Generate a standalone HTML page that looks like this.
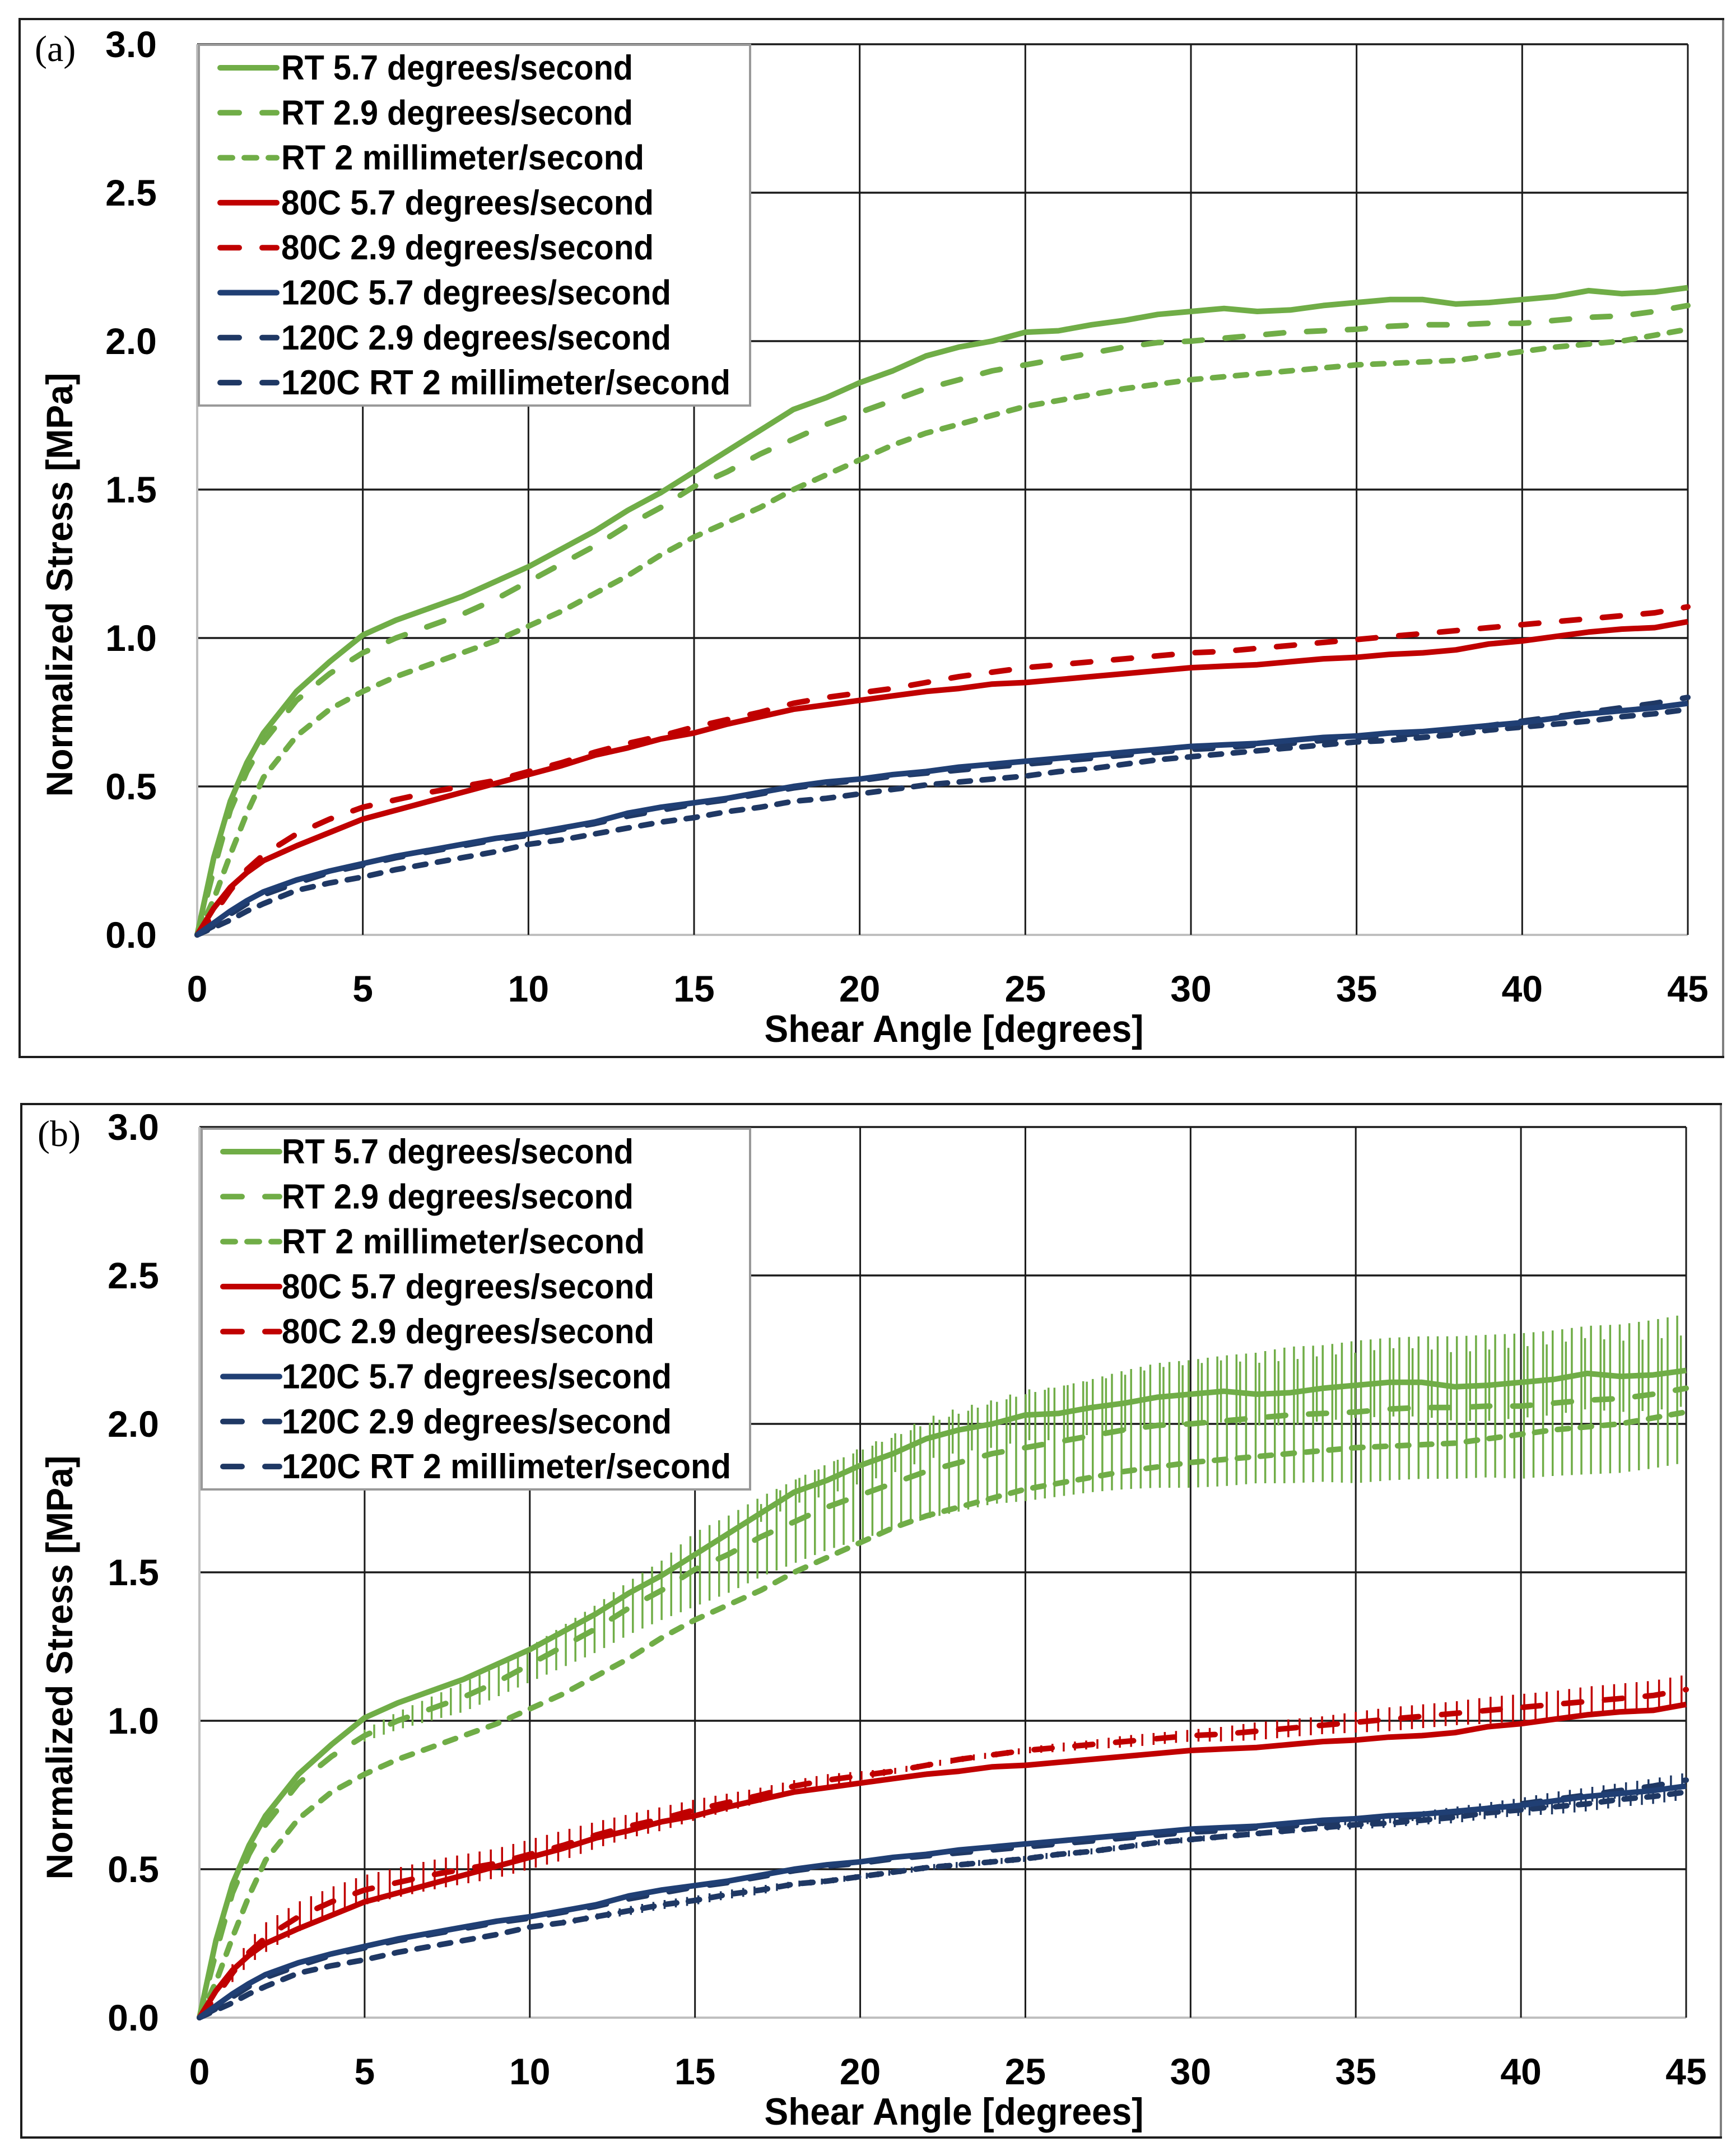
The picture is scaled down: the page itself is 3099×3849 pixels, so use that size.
<!DOCTYPE html>
<html><head><meta charset="utf-8"><title>Normalized stress vs shear angle</title>
<style>html,body{margin:0;padding:0;background:#fff}svg{display:block}text{font-family:"Liberation Sans",sans-serif;font-weight:bold;fill:#000}</style>
</head><body>
<svg id="chart" xmlns="http://www.w3.org/2000/svg" width="3099" height="3849" viewBox="0 0 3099 3849"></svg>
<script>
const angles=[0,.5,1,1.5,2,3,4,5,6,7,8,9,10,11,12,13,14,15,16,17,18,19,20,21,22,23,24,25,26,27,28,29,30,31,32,33,34,35,36,37,38,39,40,41,42,43,44,45];
const rt57=[0,.26,.45,.58,.68,.82,.92,1.01,1.06,1.10,1.14,1.19,1.24,1.30,1.36,1.43,1.49,1.56,1.63,1.70,1.77,1.81,1.86,1.90,1.95,1.98,2.00,2.03,2.035,2.055,2.07,2.09,2.10,2.11,2.10,2.105,2.12,2.13,2.14,2.14,2.125,2.13,2.14,2.15,2.17,2.16,2.165,2.18];
const rt29=[0,.22,.42,.55,.65,.79,.88,.95,1.00,1.04,1.08,1.13,1.19,1.25,1.31,1.38,1.44,1.51,1.56,1.62,1.67,1.72,1.76,1.80,1.84,1.87,1.90,1.92,1.94,1.96,1.98,1.995,2.00,2.01,2.02,2.03,2.035,2.04,2.05,2.055,2.055,2.06,2.06,2.07,2.08,2.085,2.10,2.12];
const rt2mm=[0,.12,.27,.41,.53,.67,.76,.82,.87,.91,.95,.99,1.04,1.09,1.15,1.21,1.28,1.34,1.39,1.44,1.50,1.55,1.60,1.65,1.69,1.72,1.75,1.78,1.80,1.82,1.84,1.855,1.87,1.88,1.89,1.90,1.91,1.92,1.925,1.93,1.935,1.95,1.965,1.98,1.99,2.00,2.02,2.04];
const c80s57=[0,.09,.16,.21,.25,.30,.345,.39,.42,.45,.48,.51,.54,.57,.605,.63,.66,.68,.71,.735,.76,.775,.79,.805,.82,.83,.845,.85,.86,.87,.88,.89,.90,.905,.91,.92,.93,.935,.945,.95,.96,.98,.99,1.005,1.02,1.03,1.035,1.055];
const c80s29=[0,.07,.15,.22,.27,.34,.39,.43,.455,.48,.50,.52,.55,.58,.615,.645,.67,.70,.725,.75,.78,.80,.815,.83,.85,.87,.885,.90,.91,.92,.93,.94,.95,.955,.965,.975,.985,.995,1.005,1.015,1.025,1.035,1.045,1.055,1.065,1.075,1.085,1.105];
const c120s57=[0,.04,.08,.115,.145,.185,.215,.24,.265,.285,.305,.325,.34,.36,.38,.41,.43,.445,.46,.48,.50,.515,.525,.54,.55,.565,.575,.585,.595,.605,.615,.625,.635,.64,.645,.655,.665,.67,.68,.685,.695,.705,.715,.73,.745,.755,.765,.78];
const c120s29=[0,.03,.07,.105,.135,.175,.21,.235,.26,.28,.30,.32,.335,.355,.375,.40,.42,.44,.455,.475,.495,.51,.52,.535,.545,.555,.565,.575,.585,.595,.605,.615,.625,.63,.64,.645,.655,.665,.67,.68,.69,.705,.72,.735,.75,.765,.78,.80];
const c120s2mm=[0,.025,.05,.08,.105,.15,.175,.195,.22,.24,.26,.28,.305,.32,.34,.36,.38,.395,.415,.43,.45,.46,.475,.49,.505,.515,.525,.535,.55,.56,.575,.59,.60,.61,.62,.63,.64,.65,.655,.665,.675,.69,.70,.71,.72,.735,.745,.76];
/* error half-widths, one value per whole degree 0..45 */
const errRt29=[.01,.01,.02,.02,.02,.02,.03,.04,.05,.05,.06,.07,.08,.09,.10,.125,.13,.135,.14,.145,.15,.155,.16,.165,.17,.18,.185,.19,.20,.21,.215,.22,.22,.23,.23,.24,.24,.24,.24,.24,.245,.245,.25,.25,.25,.25];
const errRt57=[0,0,0,0,0,0,0,0,0,0,0,0,0,0,0,0,0,.03,.04,.05,.06,.065,.07,.075,.08,.085,.09,.09,.095,.10,.10,.105,.105,.11,.11,.11,.115,.115,.115,.12,.12,.12,.12,.12,.12,.12];
const err80=[.01,.03,.05,.05,.05,.05,.05,.05,.05,.05,.05,.05,.045,.04,.04,.035,.03,.025,.02,.02,.015,.01,.01,.01,.01,.01,.015,.015,.02,.02,.02,.025,.03,.03,.03,.035,.04,.04,.04,.045,.045,.045,.05,.05,.05,.05];
const err120=[0,0,0,0,0,0,0,0,0,0,.005,.01,.01,.015,.015,.015,.015,.015,.01,.01,.01,.01,.01,.01,.01,.01,.01,.01,.01,.01,.01,.01,.01,.01,.01,.015,.015,.015,.02,.02,.02,.025,.025,.025,.025,.025];
const yTicks=["0.0","0.5","1.0","1.5","2.0","2.5","3.0"];
const xTicks=["0","5","10","15","20","25","30","35","40","45"];
const seriesLabels=["RT 5.7 degrees/second","RT 2.9 degrees/second","RT 2 millimeter/second","80C 5.7 degrees/second","80C 2.9 degrees/second","120C 5.7 degrees/second","120C 2.9 degrees/second","120C RT 2 millimeter/second"];
const seriesValues=[rt57,rt29,rt2mm,c80s57,c80s29,c120s57,c120s29,c120s2mm];

const GREEN="#70ad47",RED="#c00000",NAVY="#1f3864",BLUE="#203f74";
const seriesColors=[GREEN,GREEN,GREEN,RED,RED,BLUE,NAVY,NAVY];
const seriesDash=["","32 41","20 21","","32 41","","32 41","20 21"];
const legendTextWidths=[628,628,648,665,665,696,696,802];
const svg=document.getElementById("chart");
const NS="http://www.w3.org/2000/svg";
function el(tag,attrs,parent,txt){const e=document.createElementNS(NS,tag);for(const k in attrs)e.setAttribute(k,attrs[k]);if(txt!==undefined)e.textContent=txt;parent.appendChild(e);return e;}
function valueAt(vals,a){for(let i=1;i<angles.length;i++){if(a<=angles[i]){const t=(a-angles[i-1])/(angles[i]-angles[i-1]);return vals[i-1]+t*(vals[i]-vals[i-1]);}}return vals[vals.length-1];}
function errAt(errs,a){const i=Math.min(Math.floor(a),44),t=a-i;return errs[i]+t*(errs[i+1]-errs[i]);}

function drawPanel(p){
  const g=el("g",{},svg);
  
  
  const X=v=>p.x0+(p.x45-p.x0)*v/45, Y=v=>p.y0+(p.y3-p.y0)*v/3;
  const frame=el("rect",{x:p.fx,y:p.fy,width:p.fw,height:p.fh,fill:"#fff",stroke:"#1c1c1c","stroke-width":4},g);
  
  
  const rightEdge=el("line",{x1:p.fx+p.fw,x2:p.fx+p.fw,y1:p.fy+2,y2:p.fy+p.fh-2,stroke:"#808080","stroke-width":4},g);
  
  
  const tag=el("text",{x:p.fx+p.tagDx,y:p.fy+75,"font-size":66,style:'font-family:"Liberation Serif",serif;font-weight:normal'},g,"("+p.id+")");
  
  
  yTicks.forEach(t=>{
    const v=parseFloat(t);
    const gl=el("line",{x1:X(0),x2:X(45),y1:Y(v),y2:Y(v),stroke:v===0?"#bfbfbf":"#1a1a1a","stroke-width":v===0?4:3.5},g);
    
    
    const lb=el("text",{x:X(0)-118,y:Y(v)+23,"font-size":66,"text-anchor":"middle"},g,t);
    
    
  });
  xTicks.forEach(t=>{
    const v=parseFloat(t);
    const gl=el("line",{x1:X(v),x2:X(v),y1:Y(0),y2:Y(3),stroke:v===0?"#bfbfbf":"#1a1a1a","stroke-width":v===0?4:3},g);
    
    
    const lb=el("text",{x:X(v),y:Y(0)+119,"font-size":66,"text-anchor":"middle"},g,t);
    
    
  });
  if(p.errors){
    const bars=[[rt29,errRt29,GREEN,.29,5],[rt57,errRt57,GREEN,.58,17],[c80s29,err80,RED,.34,1],[c120s2mm,err120,NAVY,.34,10],[c120s29,err120,NAVY,.34,34]];
    bars.forEach(b=>{
      for(let a=b[4];a<=45.001;a+=b[3]){
        const c=valueAt(b[0],a),h=errAt(b[1],Math.min(a,45));
        const l=el("line",{x1:X(Math.min(a,45)),x2:X(Math.min(a,45)),y1:Y(c-h),y2:Y(c+h),stroke:b[2],"stroke-width":3.5},g);
        
        
      }
    });
  }
  [2,1,0,4,3,7,6,5].forEach(i=>{
    const d=seriesValues[i].map((v,k)=>(k?"L":"M")+X(angles[k]).toFixed(1)+" "+Y(v).toFixed(1)).join("");
    const attrs={d:d,fill:"none",stroke:seriesColors[i],"stroke-width":10,"stroke-linejoin":"round"};
    if(seriesDash[i]){attrs["stroke-dasharray"]=seriesDash[i];attrs["stroke-linecap"]="round";}
    const s=el("path",attrs,g);
    
    
  });
  const leg=el("g",{},g);
  
  
  el("rect",{x:p.lx,y:p.ly,width:p.lw,height:p.lh,fill:"#fff",stroke:"#999","stroke-width":4},leg);
  seriesLabels.forEach((t,i)=>{
    const ry=p.ly+41+i*80.3;
    const attrs={x1:p.lx+38,x2:p.lx+139,y1:ry,y2:ry,stroke:seriesColors[i],"stroke-width":10,"stroke-linecap":"round"};
    if(seriesDash[i])attrs["stroke-dasharray"]=i%3===1||i===4||i===6?"34 41":"22 21";
    const sw=el("line",attrs,leg);
    
    
    const lt=el("text",{x:p.lx+p.textDx,y:ry+21,"font-size":62,textLength:legendTextWidths[i],lengthAdjust:"spacingAndGlyphs"},leg,t);
    
    
  });
  const xt=el("text",{x:1703,y:p.y0+191,"font-size":68,"text-anchor":"middle",textLength:677,lengthAdjust:"spacingAndGlyphs"},g,"Shear Angle [degrees]");
  
  
  const cy=p.y0-625;
  const yt=el("text",{x:0,y:0,"font-size":66,"text-anchor":"middle",textLength:757,lengthAdjust:"spacingAndGlyphs",transform:"translate(129 "+cy+") rotate(-90)"},g,"Normalized Stress [MPa]");
  
  
}
drawPanel({id:"a",x0:352,x45:3013,y0:1669,y3:79,fx:35,fy:34,fw:3041,fh:1853,lx:355,ly:80,lw:984,lh:644,errors:false,textDx:147,tagDx:27});
drawPanel({id:"b",x0:356,x45:3010,y0:3602,y3:2012,fx:38,fy:1971,fw:3034,fh:1845,lx:360,ly:2015,lw:979,lh:644,errors:true,textDx:143,tagDx:29});
</script>
</body></html>
